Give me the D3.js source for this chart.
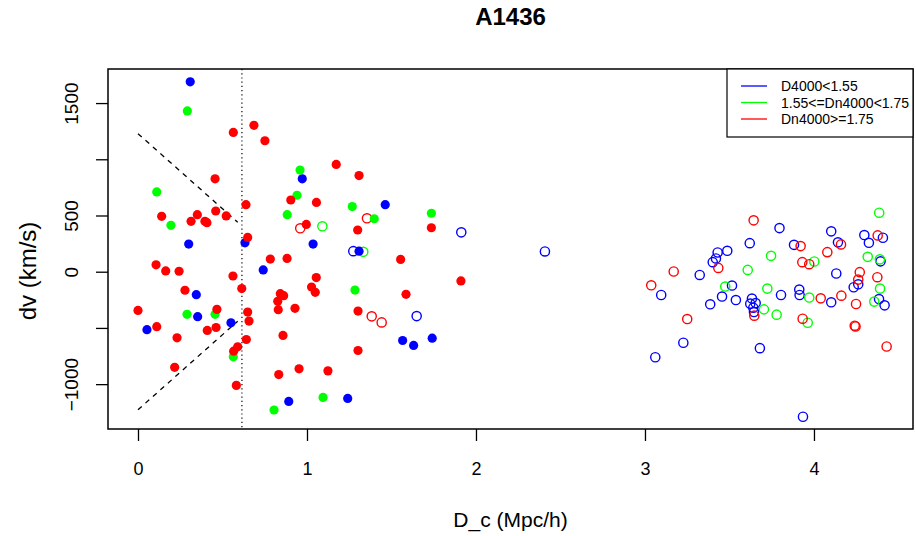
<!DOCTYPE html>
<html><head><meta charset="utf-8">
<script src="https://cdn.jsdelivr.net/npm/d3@7"></script>
<style>body{margin:0;background:#fff}text{font-family:"Liberation Sans",Arial,Helvetica,sans-serif}</style>
</head><body>
<svg id="c" width="916" height="536"></svg>
<script>
const title = "A1436";
const xLabel = "D_c (Mpc/h)";
const yLabel = "dv (km/s)";
const xTicks = [0, 1, 2, 3, 4];
const yTicks = [-1000, -500, 0, 500, 1000, 1500];
const yTickLabels = ["\u22121000", "", "0", "500", "", "1500"];
const legendLabels = ["D4000<1.55", "1.55<=Dn4000<1.75", "Dn4000>=1.75"];
const colors = ["#0000ff", "#00ff00", "#ff0000"];
const vLineX = 0.615;
const upperDash = [[0, 1228], [0.59, 440]];
const lowerDash = [[0, -1228], [0.59, -440]];

// filled symbols (members)
const blueFilled = [[0.309,1689],[0.972,826],[1.463,596],[0.300,246],[0.633,257],[1.036,246],[1.308,183],[0.741,16],[0.345,-204],[0.353,-400],[0.550,-454],[0.053,-516],[1.566,-612],[1.631,-656],[1.741,-591],[1.241,-1127],[0.892,-1154]];
const greenFilled = [[0.292,1430],[0.959,904],[0.111,710],[0.941,680],[0.883,507],[0.195,413],[1.268,579],[1.398,471],[1.736,520],[1.284,-163],[0.290,-379],[0.456,-379],[0.564,-757],[1.095,-1118],[0.805,-1230]];
const redFilled = [[0.564,1239],[0.686,1302],[0.751,1165],[1.173,954],[1.308,855],[0.456,826],[0.904,638],[1.056,616],[0.639,596],[0.140,493],[0.314,448],[0.351,507],[0.396,448],[0.408,436],[0.460,540],[0.522,496],[0.996,421],[1.300,371],[1.736,391],[0.649,305],[0.107,61],[0.164,7],[0.243,4],[0.783,112],[0.882,118],[1.554,109],[0.562,-38],[1.055,-52],[1.911,-82],[0.614,-150],[0.278,-165],[1.027,-136],[1.049,-183],[0.842,-195],[0.862,-213],[0.827,-263],[1.586,-201],[0.830,-338],[0.929,-326],[0.000,-344],[0.467,-335],[0.649,-359],[0.657,-439],[1.302,-350],[0.111,-489],[0.410,-522],[0.462,-496],[0.231,-588],[0.641,-603],[0.858,-567],[0.590,-668],[0.566,-707],[1.302,-701],[0.217,-850],[0.833,-915],[0.953,-864],[1.124,-882],[0.582,-1011]];

// open symbols (non-members)
const blueOpen = [[1.913,350],[2.408,180],[1.274,183],[1.649,-395],[3.796,388],[3.620,254],[3.487,186],[3.430,171],[3.420,118],[3.401,85],[3.324,-29],[3.096,-207],[3.515,-123],[3.456,-221],[3.538,-252],[3.386,-290],[3.633,-239],[3.623,-284],[3.655,-279],[3.641,-320],[3.645,-359],[3.227,-632],[3.680,-680],[3.061,-761],[4.102,359],[4.298,326],[4.408,302],[4.325,257],[3.882,239],[4.142,261],[4.394,92],[4.132,-16],[4.262,-112],[4.235,-138],[3.805,-207],[3.913,-159],[3.915,-207],[4.102,-272],[4.385,-243],[4.418,-299],[3.935,-1290]];
const greenOpen = [[1.091,404],[1.333,177],[3.746,141],[3.608,16],[3.475,-132],[3.724,-150],[3.704,-335],[3.779,-382],[4.386,525],[4.318,132],[4.002,91],[4.391,-150],[3.972,-230],[4.357,-266],[3.963,-454],[4.390,110]];
const redOpen = [[0.960,386],[1.355,475],[1.383,-397],[1.442,-451],[3.643,457],[3.434,34],[3.170,2],[3.037,-121],[3.647,-391],[3.250,-421],[4.377,323],[3.921,228],[4.160,243],[4.079,174],[3.931,85],[3.972,67],[4.271,-4],[4.262,-70],[4.375,-49],[4.040,-237],[4.162,-213],[4.249,-287],[3.933,-418],[4.241,-480],[4.246,-487],[4.430,-665]];

const svg = d3.select("#c");
const L = 108, R = 913, T = 69, B = 429;
const x = d3.scaleLinear().domain([-0.1775, 4.586]).range([L, R]);
const y = d3.scaleLinear().domain([-1399, 1803]).range([B, T]);

svg.append("rect").attr("width", 916).attr("height", 536).attr("fill", "#fff");

// reference lines
const g = svg.append("g");
g.append("line").attr("x1", x(vLineX)).attr("x2", x(vLineX)).attr("y1", T).attr("y2", B)
  .attr("stroke", "#000").attr("stroke-width", 1.2).attr("stroke-dasharray", "1.2,3");
[upperDash, lowerDash].forEach(d => {
  g.append("line").attr("x1", x(d[0][0])).attr("y1", y(d[0][1])).attr("x2", x(d[1][0])).attr("y2", y(d[1][1]))
    .attr("stroke", "#000").attr("stroke-width", 1.3).attr("stroke-dasharray", "5,5");
});

// points
const pts = svg.append("g");
function drawOpen(data, col) {
  pts.selectAll(null).data(data).enter().append("circle")
    .attr("cx", d => x(d[0])).attr("cy", d => y(d[1])).attr("r", 4.6)
    .attr("fill", "none").attr("stroke", col).attr("stroke-width", 1.4);
}
function drawFilled(data, col) {
  pts.selectAll(null).data(data).enter().append("circle")
    .attr("cx", d => x(d[0])).attr("cy", d => y(d[1])).attr("r", 4.6)
    .attr("fill", col).attr("stroke", "none");
}
drawOpen(blueOpen, colors[0]);
drawOpen(greenOpen, colors[1]);
drawOpen(redOpen, colors[2]);
drawFilled(blueFilled, colors[0]);
drawFilled(greenFilled, colors[1]);
drawFilled(redFilled, colors[2]);

// box
svg.append("rect").attr("x", L).attr("y", T).attr("width", R - L).attr("height", B - T)
  .attr("fill", "none").attr("stroke", "#000").attr("stroke-width", 1.5);

// x axis
const xa = svg.append("g").attr("transform", `translate(0,${B})`)
  .call(d3.axisBottom(x).tickValues(xTicks).tickSize(12).tickFormat(d3.format("d")).tickPadding(21));
xa.select(".domain").remove();
xa.selectAll("line").attr("stroke-width", 1.3);
xa.selectAll("text").attr("font-size", 18).attr("fill", "#000").attr("font-family", "Liberation Sans, Arial, sans-serif");

// y axis
const ya = svg.append("g").attr("transform", `translate(${L},0)`)
  .call(d3.axisLeft(y).tickValues(yTicks).tickSize(12).tickFormat((d, i) => yTickLabels[i]));
ya.select(".domain").remove();
ya.selectAll("line").attr("stroke-width", 1.3);
ya.selectAll("text").attr("font-size", 19).attr("fill", "#000")
  .attr("font-family", "Liberation Sans, Arial, sans-serif")
  .attr("text-anchor", "middle").attr("x", null).attr("dy", null)
  .attr("transform", "translate(-30,0) rotate(-90)");

// titles
svg.append("text").attr("x", (L + R) / 2).attr("y", 25).attr("text-anchor", "middle")
  .attr("font-size", 24).attr("font-weight", "bold").text(title);
svg.append("text").attr("x", (L + R) / 2).attr("y", 527).attr("text-anchor", "middle")
  .attr("font-size", 21).text(xLabel);
svg.append("text").attr("transform", `translate(36,271) rotate(-90)`).attr("text-anchor", "middle")
  .attr("font-size", 24).text(yLabel);

// legend
const lg = svg.append("g");
lg.append("rect").attr("x", 727).attr("y", T).attr("width", R - 727).attr("height", 68)
  .attr("fill", "#fff").attr("stroke", "#000").attr("stroke-width", 1.2);
legendLabels.forEach((t, i) => {
  const yy = 86 + i * 16.5;
  lg.append("line").attr("x1", 741).attr("x2", 767).attr("y1", yy).attr("y2", yy)
    .attr("stroke", colors[i]).attr("stroke-width", 1.3);
  lg.append("text").attr("x", 781).attr("y", yy + 5).attr("font-size", 14).text(t);
});
</script>
</body></html>
